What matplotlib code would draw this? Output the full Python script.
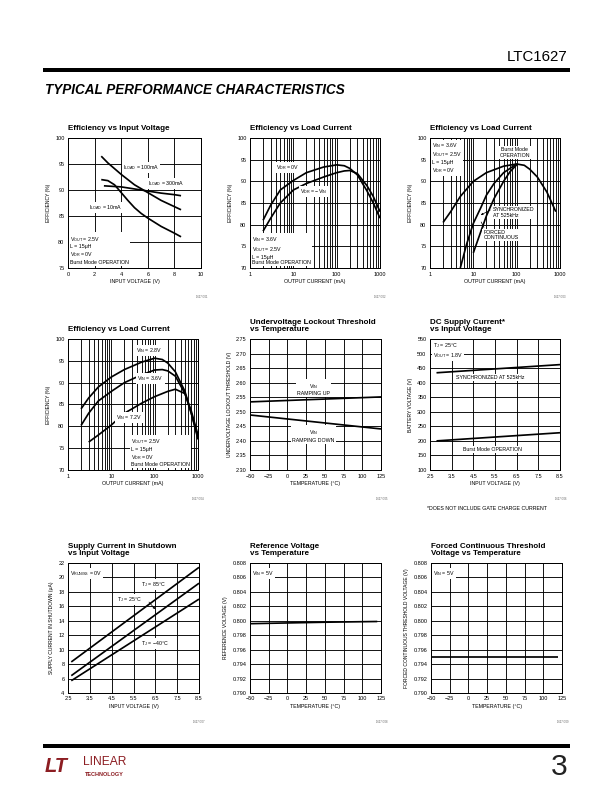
import numpy as np
import matplotlib
matplotlib.use("Agg")
import matplotlib.pyplot as plt
from matplotlib.lines import Line2D

# ==========================================
# Fonts / page
# ==========================================

plt.rcParams['font.family'] = ['Liberation Sans Narrow', 'Liberation Sans', 'DejaVu Sans']
plt.rcParams['mathtext.default'] = 'regular'

W, H = 612, 792
RED = "#8c1d22"

# ==========================================
# Data
# ==========================================

# G01 efficiency vs input voltage
g1_vin_100 = [2.5, 3, 4, 5, 6, 7, 8, 8.5]
g1_eff_100 = [96.5, 95.2, 93.0, 91.0, 89.5, 88.0, 86.8, 86.2]
g1_vin_300 = [2.7, 4, 5, 6, 7, 8, 8.5]
g1_eff_300 = [90.8, 90.6, 90.2, 89.8, 89.4, 89.1, 88.9]
g1_vin_10 = [2.5, 3, 3.5, 4, 4.5, 5, 5.5, 6, 7, 8, 8.5]
g1_eff_10 = [92.0, 91.8, 91.0, 89.5, 88.0, 86.6, 85.5, 84.6, 83.0, 81.7, 81.0]

# G02 efficiency vs load current, VDR
g2_iout = [2, 3, 5, 10, 20, 50, 100, 150, 200, 300, 500, 700, 1000]
g2_eff_vdr0 = [81.0, 84.5, 88.0, 90.2, 92.0, 93.3, 93.8, 93.6, 93.0, 91.5, 87.8, 85.0, 81.5]
g2_eff_vdrvin = [78.5, 81.5, 85.0, 88.0, 89.5, 91.0, 92.0, 92.4, 92.5, 91.8, 89.0, 86.5, 83.0]

# G03 efficiency vs load current, modes
g3_iout_burst = [2, 3, 5, 10, 20, 50, 100, 150, 200, 300, 500, 800]
g3_eff_burst = [80.5, 83.0, 86.5, 90.0, 92.0, 93.5, 94.0, 93.7, 92.8, 91.0, 87.5, 83.0]
g3_iout_sync = [5, 7, 10, 15, 20, 30, 50, 100]
g3_eff_sync = [70.0, 75.5, 80.3, 84.0, 86.8, 89.5, 92.0, 94.0]
g3_iout_forced = [10, 15, 20, 30, 50, 70, 100]
g3_eff_forced = [73.5, 78.5, 82.0, 86.0, 90.0, 92.2, 93.8]

# G04 efficiency vs load current, VIN
g4_iout = [2, 3, 5, 10, 20, 50, 100, 150, 200, 300, 500, 700, 1000]
g4_eff_28 = [84.0, 86.5, 89.0, 91.3, 93.0, 94.7, 95.6, 95.3, 94.5, 92.5, 88.0, 83.0, 77.0]
g4_eff_36 = [80.2, 83.0, 85.8, 88.0, 90.0, 91.8, 92.9, 93.0, 92.7, 91.5, 87.5, 83.0, 77.5]
g4_iout_72 = [3, 5, 10, 20, 30, 50, 100, 200, 300, 500, 700, 1000]
g4_eff_72 = [76.4, 78.0, 80.3, 83.0, 84.0, 85.3, 86.8, 88.0, 88.5, 87.5, 83.5, 78.0]

# G05 undervoltage lockout vs temperature
g5_temp = [-50, 125]
g5_up = [2.534, 2.551]
g5_down = [2.489, 2.441]

# G06 DC supply current vs input voltage
g6_vin = [2.8, 8.5]
g6_sync = [434, 462]
g6_burst = [200, 228]

# G07 shutdown current vs input voltage
g7_vin = [2.65, 8.5]
g7_85 = [8.3, 21.4]
g7_25 = [6.4, 19.2]
g7_m40 = [5.7, 17.0]

# G08 reference voltage vs temperature
g8_temp = [-50, 0, 50, 120]
g8_vref = [0.7996, 0.7997, 0.7998, 0.7999]

# G09 forced continuous threshold vs temperature
g9_temp = [-50, 120]
g9_vth = [0.795, 0.795]

# tick definitions
eff_ticks_25 = [75, 80, 85, 90, 95, 100]
eff_ticks_30 = [70, 75, 80, 85, 90, 95, 100]
vin_ticks_10 = [0, 2, 4, 6, 8, 10]
log_ticks = [1, 10, 100, 1000]
temp_ticks = [-50, -25, 0, 25, 50, 75, 100, 125]
temp_labels = ["\u221250", "\u221225", "0", "25", "50", "75", "100", "125"]
vin_ticks_85 = [2.5, 3.5, 4.5, 5.5, 6.5, 7.5, 8.5]
uvlo_ticks = [2.30, 2.35, 2.40, 2.45, 2.50, 2.55, 2.60, 2.65, 2.70, 2.75]
icc_ticks = [100, 150, 200, 250, 300, 350, 400, 450, 500, 550]
ishdn_ticks = [4, 6, 8, 10, 12, 14, 16, 18, 20, 22]
vref_ticks = [0.790, 0.792, 0.794, 0.796, 0.798, 0.800, 0.802, 0.804, 0.806, 0.808]


# ==========================================
# Helpers
# ==========================================

fig = plt.figure(figsize=(W / 72, H / 72), dpi=72)


def fx(x):
    return x / W


def fy(y):
    return 1 - y / H


def make_axes(px, title, xlabel, ylabel, code, xlim, ylim, xticks, yticks,
              xlabels=None, ylabels=None, fmt_y="{:g}", log=False):
    x0, y0, x1, y1 = px
    ax = fig.add_axes([fx(x0), fy(y1), (x1 - x0) / W, (y1 - y0) / H])
    if log:
        ax.set_xscale("log")
        minors = [m * d for d in (1, 10, 100) for m in range(2, 10)]
        ax.set_xticks(minors, minor=True)
        ax.set_xticklabels([], minor=True)
    ax.set_xlim(*xlim)
    ax.set_ylim(*ylim)
    ax.set_xticks(xticks)
    ax.set_xticklabels(xlabels if xlabels else [f"{t:g}" for t in xticks])
    ax.set_yticks(yticks)
    ax.set_yticklabels(ylabels if ylabels else [fmt_y.format(t) for t in yticks])
    ax.tick_params(which="both", length=0, pad=3.5, labelsize=5.5)
    ax.grid(True, which="both", color="black", lw=0.9)
    for s in ax.spines.values():
        s.set_linewidth(1.0)
    ax.set_xlabel(xlabel, fontsize=5.3, labelpad=2.5)
    ax.set_ylabel(ylabel, fontsize=5.0, labelpad=4)
    fig.text(fx(x0), fy(y0 - 6), title, fontsize=8, fontweight="bold",
             ha="left", va="bottom", linespacing=1.05)
    fig.text(fx(x1 + 6), fy(y1 + 29), code, fontsize=2.6, ha="right",
             va="center", color="0.35")
    return ax


def note(ax, x, y, s, ha="left", va="center", size=5.3):
    ax.text(x, y, s, fontsize=size, ha=ha, va=va, zorder=6, linespacing=1.15,
            bbox=dict(facecolor="white", edgecolor="none", pad=1.0))


def curve(ax, x, y):
    ax.plot(x, y, color="black", lw=1.7, zorder=4, solid_capstyle="butt")


# ==========================================
# Row 1
# ==========================================

ax = make_axes((68, 138, 201, 268), "Efficiency vs Input Voltage",
               "INPUT VOLTAGE (V)", "EFFICIENCY (%)", "1627 G01",
               (0, 10), (75, 100), vin_ticks_10, eff_ticks_25)
curve(ax, g1_vin_100, g1_eff_100)
curve(ax, g1_vin_300, g1_eff_300)
curve(ax, g1_vin_10, g1_eff_10)
note(ax, 4.1, 94.3, "I$_{LOAD}$ = 100mA")
note(ax, 6.0, 91.2, "I$_{LOAD}$ = 300mA")
note(ax, 1.6, 86.6, "I$_{LOAD}$ = 10mA")
note(ax, 0.15, 75.6, "V$_{OUT}$ = 2.5V\nL = 15\u03bcH\nV$_{DR}$ = 0V\nBurst Mode OPERATION",
     va="bottom")

ax = make_axes((250, 138, 380, 268), "Efficiency vs Load Current",
               "OUTPUT CURRENT (mA)", "EFFICIENCY (%)", "1627 G02",
               (1, 1000), (70, 100), log_ticks, eff_ticks_30, log=True)
curve(ax, g2_iout, g2_eff_vdr0)
curve(ax, g2_iout, g2_eff_vdrvin)
note(ax, 4.0, 93.2, "V$_{DR}$ = 0V")
note(ax, 14.0, 87.6, "V$_{DR}$ = \u2212V$_{IN}$")
note(ax, 1.12, 70.6, "V$_{IN}$ = 3.6V\nV$_{OUT}$ = 2.5V\nL = 15\u03bcH\nBurst Mode OPERATION",
     va="bottom")

ax = make_axes((430, 138, 560, 268), "Efficiency vs Load Current",
               "OUTPUT CURRENT (mA)", "EFFICIENCY (%)", "1627 G03",
               (1, 1000), (70, 100), log_ticks, eff_ticks_30, log=True)
curve(ax, g3_iout_burst, g3_eff_burst)
curve(ax, g3_iout_sync, g3_eff_sync)
curve(ax, g3_iout_forced, g3_eff_forced)
note(ax, 1.12, 99.4, "V$_{IN}$ = 3.6V\nV$_{OUT}$ = 2.5V\nL = 15\u03bcH\nV$_{DR}$ = 0V", va="top")
note(ax, 90, 96.6, "Burst Mode\nOPERATION", ha="center")
note(ax, 28, 82.8, "SYNCHRONIZED\nAT 525kHz")
note(ax, 17, 77.6, "FORCED\nCONTINUOUS")
ax.annotate("", xy=(13.5, 82.0), xytext=(27, 83.6),
            arrowprops=dict(arrowstyle="-|>", color="black", lw=0.7,
                            mutation_scale=4), zorder=7)
ax.plot([17.5, 15.2], [79.4, 80.6], color="black", lw=0.7, zorder=7)

# ==========================================
# Row 2
# ==========================================

ax = make_axes((68, 339, 198, 470), "Efficiency vs Load Current",
               "OUTPUT CURRENT (mA)", "EFFICIENCY (%)", "1627 G04",
               (1, 1000), (70, 100), log_ticks, eff_ticks_30, log=True)
curve(ax, g4_iout, g4_eff_28)
curve(ax, g4_iout, g4_eff_36)
curve(ax, g4_iout_72, g4_eff_72)
note(ax, 38, 97.3, "V$_{IN}$ = 2.8V")
note(ax, 40, 91.0, "V$_{IN}$ = 3.6V")
note(ax, 12.5, 82.0, "V$_{IN}$ = 7.2V")
note(ax, 28, 70.6, "V$_{OUT}$ = 2.5V\nL = 15\u03bcH\nV$_{DR}$ = 0V\nBurst Mode OPERATION",
     va="bottom")

ax = make_axes((250, 339, 381, 470), "Undervoltage Lockout Threshold\nvs Temperature",
               "TEMPERATURE (\u00b0C)", "UNDERVOLTAGE LOCKOUT THRESHOLD (V)", "1627 G05",
               (-50, 125), (2.30, 2.75), temp_ticks, uvlo_ticks,
               xlabels=temp_labels, fmt_y="{:.2f}")
curve(ax, g5_temp, g5_up)
curve(ax, g5_temp, g5_down)
note(ax, 35, 2.578, "V$_{IN}$\nRAMPING UP", ha="center")
note(ax, 35, 2.418, "V$_{IN}$\nRAMPING DOWN", ha="center")

ax = make_axes((430, 339, 560, 470), "DC Supply Current*\nvs Input Voltage",
               "INPUT VOLTAGE (V)", "BATTERY VOLTAGE (V)", "1627 G06",
               (2.5, 8.5), (100, 550), vin_ticks_85, icc_ticks)
curve(ax, g6_vin, g6_sync)
curve(ax, g6_vin, g6_burst)
note(ax, 2.65, 543, "T$_J$ = 25\u00b0C\nV$_{OUT}$ = 1.8V", va="top")
note(ax, 5.3, 418, "SYNCHRONIZED AT 525kHz", ha="center")
note(ax, 5.4, 171, "Burst Mode OPERATION", ha="center")
fig.text(fx(427), fy(508), "*DOES NOT INCLUDE GATE CHARGE CURRENT", fontsize=5.2,
         ha="left", va="center")

# ==========================================
# Row 3
# ==========================================

ax = make_axes((68, 563, 199, 693), "Supply Current in Shutdown\nvs Input Voltage",
               "INPUT VOLTAGE (V)", "SUPPLY CURRENT IN SHUTDOWN (\u03bcA)", "1627 G07",
               (2.5, 8.5), (4, 22), vin_ticks_85, ishdn_ticks)
curve(ax, g7_vin, g7_85)
curve(ax, g7_vin, g7_25)
curve(ax, g7_vin, g7_m40)
note(ax, 2.6, 21.2, "V$_{RUN/SS}$ = 0V", va="top")
note(ax, 5.85, 19.0, "T$_J$ = 85\u00b0C")
note(ax, 4.75, 17.0, "T$_J$ = 25\u00b0C")
note(ax, 5.85, 10.8, "T$_J$ = \u221240\u00b0C")
ax.annotate("", xy=(6.55, 15.4), xytext=(6.15, 16.8),
            arrowprops=dict(arrowstyle="-|>", color="black", lw=0.7,
                            mutation_scale=4), zorder=7)

ax = make_axes((250, 563, 381, 693), "Reference Voltage\nvs Temperature",
               "TEMPERATURE (\u00b0C)", "REFERENCE VOLTAGE (V)", "1627 G08",
               (-50, 125), (0.790, 0.808), temp_ticks, vref_ticks,
               xlabels=temp_labels, fmt_y="{:.3f}")
curve(ax, g8_temp, g8_vref)
note(ax, -47, 0.8072, "V$_{IN}$ = 5V", va="top")

ax = make_axes((431, 563, 562, 693), "Forced Continuous Threshold\nVoltage vs Temperature",
               "TEMPERATURE (\u00b0C)", "FORCED CONTINUOUS THRESHOLD VOLTAGE (V)", "1627 G09",
               (-50, 125), (0.790, 0.808), temp_ticks, vref_ticks,
               xlabels=temp_labels, fmt_y="{:.3f}")
curve(ax, g9_temp, g9_vth)
note(ax, -47, 0.8072, "V$_{IN}$ = 5V", va="top")

# ==========================================
# Page header / footer
# ==========================================

fig.add_artist(Line2D([fx(45), fx(568)], [fy(70), fy(70)], color="black", lw=4))
fig.text(fx(568), fy(57), "LTC1627", fontsize=15, ha="right", va="center",
         family=["Liberation Sans Narrow", "Liberation Sans"])
fig.text(fx(45), fy(90), "TYPICAL PERFORMANCE CHARACTERISTICS", fontsize=13.5,
         fontweight="bold", fontstyle="italic", ha="left", va="center")

fig.add_artist(Line2D([fx(45), fx(568)], [fy(746), fy(746)], color="black", lw=4))
fig.text(fx(568), fy(767), "3", fontsize=30, ha="right", va="center",
         family=["Liberation Sans"], color="#222222")
fig.text(fx(45), fy(766), "LT", fontsize=20, fontweight="bold", fontstyle="italic",
         ha="left", va="center", color=RED)
fig.text(fx(83), fy(762), "LINEAR", fontsize=12, ha="left", va="center", color=RED)
fig.text(fx(85), fy(774), "TECHNOLOGY", fontsize=5.5, fontweight="bold",
         ha="left", va="center", color=RED)

fig.savefig("out.png", dpi=72)
